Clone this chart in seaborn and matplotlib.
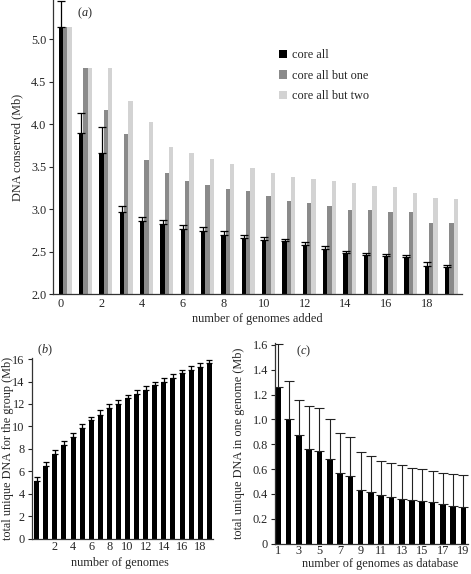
import numpy as np
import pandas as pd
import seaborn as sns
import matplotlib
matplotlib.use('Agg')
import matplotlib.pyplot as plt

# panel (a): DNA conserved vs number of genomes added
added = list(range(20))
core_all = [5.14, 3.89, 3.66, 2.965, 2.855, 2.82, 2.76, 2.745, 2.70, 2.66,
            2.64, 2.62, 2.575, 2.53, 2.48, 2.455, 2.45, 2.43, 2.33, 2.32]
core_all_err = [0.31, 0.24, 0.30, 0.065, 0.055, 0.05, 0.05, 0.045, 0.04, 0.03,
                0.035, 0.03, 0.04, 0.04, 0.03, 0.025, 0.015, 0.03, 0.045, 0.025]
core_but_one = [5.14, 4.665, 4.16, 3.88, 3.58, 3.425, 3.33, 3.285, 3.24, 3.21,
                3.155, 3.10, 3.07, 3.04, 2.99, 2.99, 2.97, 2.97, 2.84, 2.84]
core_but_two = [5.14, 4.665, 4.665, 4.27, 4.02, 3.73, 3.655, 3.59, 3.53, 3.48,
                3.425, 3.38, 3.355, 3.33, 3.305, 3.275, 3.26, 3.19, 3.13, 3.12]
series_names = ['core all', 'core all but one', 'core all but two']

# panel (b): total unique DNA for the group
n_genomes = list(range(20))
group_dna = [5.15, 6.45, 7.5, 8.33, 9.08, 9.88, 10.55, 11.05, 11.63, 12.03,
             12.5, 12.93, 13.26, 13.68, 13.98, 14.35, 14.74, 15.06, 15.33, 15.64]
group_err = [0.36, 0.39, 0.36, 0.33, 0.36, 0.36, 0.33, 0.39, 0.34, 0.36,
             0.33, 0.30, 0.30, 0.27, 0.33, 0.33, 0.30, 0.30, 0.30, 0.28]

# panel (c): unique DNA in one genome vs genomes as database
database = list(range(1, 20))
one_genome = [1.26, 1.0, 0.877, 0.765, 0.746, 0.68, 0.568, 0.546, 0.433, 0.417,
              0.39, 0.376, 0.36, 0.352, 0.344, 0.333, 0.317, 0.306, 0.298]
one_genome_top = [1.61, 1.31, 1.16, 1.107, 1.09, 1.0, 0.89, 0.86, 0.735, 0.708,
                  0.668, 0.649, 0.633, 0.606, 0.598, 0.581, 0.568, 0.557, 0.552]

sns.set_style('ticks')
plt.rcParams['font.family'] = ['Liberation Serif', 'DejaVu Serif']
plt.rcParams['mathtext.fontset'] = 'custom'
plt.rcParams['mathtext.rm'] = 'Liberation Serif'
plt.rcParams['mathtext.it'] = 'Liberation Serif:italic'
plt.rcParams['font.size'] = 8.8
plt.rcParams['axes.linewidth'] = 0.9
plt.rcParams['axes.edgecolor'] = '#333333'

colors = ['#000000', '#8a8a8a', '#d3d3d3']

fig = plt.figure(figsize=(4.71, 5.74), dpi=100)
ax1 = fig.add_axes([0.113, 0.4878, 0.867, 0.5122])
ax2 = fig.add_axes([0.0673, 0.0618, 0.3847, 0.3145])
ax3 = fig.add_axes([0.584, 0.0531, 0.410, 0.3489])

# ---- panel (a)
df_a = pd.DataFrame({
    'added': added * 3,
    'value': core_all + core_but_one + core_but_two,
    'series': [s for s in series_names for _ in added],
})
sns.barplot(data=df_a, x='added', y='value', hue='series', palette=colors,
            width=0.64, saturation=1, errorbar=None, ax=ax1, linewidth=0)
black_x = [b.get_x() + b.get_width() / 2 for b in ax1.containers[0]]
ax1.errorbar(black_x, core_all, yerr=[np.zeros(len(core_all)), core_all_err],
             fmt='none', ecolor='black', elinewidth=0.9, capsize=3, capthick=0.9)
ax1.set_ylim(2.0, 5.46)
ax1.set_yticks([2.0, 2.5, 3.0, 3.5, 4.0, 4.5, 5.0])
ax1.set_yticklabels(['2.0', '2.5', '3.0', '3.5', '4.0', '4.5', '5.0'])
ax1.set_xlim(black_x[0] - 0.38, black_x[0] + 19.71)
ax1.set_xticks(black_x[::2])
ax1.set_xticklabels([str(a) for a in added[::2]])
ax1.tick_params(axis='x', length=0, pad=3)
ax1.tick_params(axis='y', length=3, pad=2)
ax1.set_xlabel('number of genomes added')
ax1.set_ylabel('DNA conserved (Mb)')
ax1.xaxis.set_label_coords(0.50, -0.066)
ax1.yaxis.set_label_coords(-0.074, 0.5)
ax1.legend(loc='upper left', bbox_to_anchor=(0.525, 0.87), frameon=False,
           handlelength=0.7, handleheight=0.7, handletextpad=0.4,
           labelspacing=0.7, title=None)
ax1.text(0.078, 0.955, r'$(a)$', transform=ax1.transAxes, ha='center', va='center')
sns.despine(ax=ax1)

# ---- panel (b)
df_b = pd.DataFrame({'n': n_genomes, 'dna': group_dna})
sns.barplot(data=df_b, x='n', y='dna', color='black', saturation=1,
            width=0.55, errorbar=None, ax=ax2, linewidth=0)
ax2.errorbar(range(len(group_dna)), group_dna,
             yerr=[np.zeros(len(group_dna)), group_err],
             fmt='none', ecolor='black', elinewidth=0.9, capsize=2.5, capthick=0.9)
ax2.set_ylim(0, 16.1)
ax2.set_yticks(range(0, 17, 2))
ax2.set_xlim(-0.55, 19.4)
ax2.set_xticks(range(2, 20, 2))
ax2.set_xticklabels([str(n) for n in n_genomes[2::2]])
ax2.tick_params(axis='x', length=0, pad=2)
ax2.tick_params(axis='y', length=3, pad=2)
ax2.set_xlabel('number of genomes')
ax2.set_ylabel('total unique DNA for the group (Mb)')
ax2.xaxis.set_label_coords(0.487, -0.1)
ax2.yaxis.set_label_coords(-0.098, 0.5)
ax2.text(0.07, 1.04, r'$(b)$', transform=ax2.transAxes, ha='center', va='center')
sns.despine(ax=ax2)

# ---- panel (c)
df_c = pd.DataFrame({'db': database, 'dna': one_genome})
sns.barplot(data=df_c, x='db', y='dna', color='black', saturation=1,
            width=0.55, errorbar=None, ax=ax3, linewidth=0)
upper = np.array(one_genome_top) - np.array(one_genome)
ax3.errorbar(range(len(one_genome)), one_genome,
             yerr=[np.zeros(len(one_genome)), upper],
             fmt='none', ecolor='#222222', elinewidth=0.8, capsize=3.5, capthick=0.8)
ax3.set_ylim(0, 1.614)
ax3.set_yticks([0, 0.2, 0.4, 0.6, 0.8, 1.0, 1.2, 1.4, 1.6])
ax3.set_yticklabels(['0', '0.2', '0.4', '0.6', '0.8', '1.0', '1.2', '1.4', '1.6'])
ax3.set_xlim(-0.32, 18.46)
ax3.set_xticks(range(0, 19, 2))
ax3.set_xticklabels([str(d) for d in database[::2]])
ax3.tick_params(axis='x', length=0, pad=1)
ax3.tick_params(axis='y', length=3, pad=2)
ax3.set_xlabel('number of genomes as database')
ax3.set_ylabel('total unique DNA in one genome (Mb)')
ax3.xaxis.set_label_coords(0.544, -0.072)
ax3.yaxis.set_label_coords(-0.155, 0.5)
ax3.text(0.145, 0.96, r'$(c)$', transform=ax3.transAxes, ha='center', va='center')
sns.despine(ax=ax3)

fig.savefig('out.png', dpi=100)
